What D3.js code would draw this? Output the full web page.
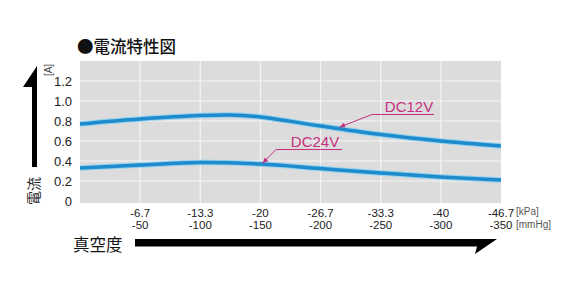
<!DOCTYPE html>
<html>
<head>
<meta charset="utf-8">
<script src="https://cdn.jsdelivr.net/npm/d3@7"></script>
<style>
  body { margin: 0; background: #fff; }
  text { font-family: "Liberation Sans", Arial, sans-serif; }
  .jp { font-family: "Noto Sans CJK JP", sans-serif; }
</style>
</head>
<body>
<svg width="583" height="300"></svg>
<script>
// data
var mmHg = [0, -50, -100, -150, -200, -250, -300, -350];
var kPaLabels = ['', '-6.7', '-13.3', '-20', '-26.7', '-33.3', '-40', '-46.7'];
var yTicks = [0, 0.2, 0.4, 0.6, 0.8, 1.0, 1.2];

var dc12x = [0, -50, -100, -125, -150, -200, -250, -300, -350];
var dc12y = [0.77, 0.82, 0.855, 0.86, 0.84, 0.75, 0.665, 0.60, 0.55];
var dc24x = [0, -50, -100, -150, -200, -250, -300, -350];
var dc24y = [0.33, 0.36, 0.385, 0.37, 0.325, 0.28, 0.24, 0.21];

var svg = d3.select('svg');

var x = d3.scaleLinear().domain([0, -350]).range([80, 501]);
var y = d3.scaleLinear().domain([0, 1.4]).range([201, 61]);

var magenta = '#c4307e';

// plot background
svg.append('rect')
    .attr('x', x(0)).attr('y', y(1.4))
    .attr('width', x(-350) - x(0))
    .attr('height', y(0) - y(1.4) + 2)
    .attr('fill', '#dcdcdc');

// grid
svg.append('g').selectAll('line')
    .data(mmHg.slice(1, 7))
    .enter().append('line')
    .attr('x1', function(d) { return x(d); })
    .attr('x2', function(d) { return x(d); })
    .attr('y1', y(1.4)).attr('y2', y(0) + 2)
    .attr('stroke', '#f4f4f4').attr('stroke-width', 1.2);

svg.append('g').selectAll('line')
    .data(yTicks.slice(1))
    .enter().append('line')
    .attr('x1', x(0)).attr('x2', x(-350))
    .attr('y1', function(d) { return y(d); })
    .attr('y2', function(d) { return y(d); })
    .attr('stroke', '#f4f4f4').attr('stroke-width', 1.2);

// y axis labels
var yAxis = svg.append('g')
    .attr('transform', 'translate(' + (x(0) - 5) + ',0)')
    .call(d3.axisLeft(y).tickValues(yTicks).tickSize(0)
        .tickFormat(function(d) { return d === 0 ? '0' : d.toFixed(1); }));
yAxis.select('.domain').remove();
yAxis.selectAll('text')
    .attr('font-size', 13)
    .attr('fill', '#222')
    .style('font-family', '"Liberation Sans", Arial, sans-serif');

// x tick labels (two rows)
var xl = svg.append('g').selectAll('g')
    .data(mmHg.slice(1))
    .enter().append('g');
xl.append('text')
    .attr('x', function(d) { return x(d); })
    .attr('y', 217)
    .attr('text-anchor', 'middle')
    .attr('font-size', 11.5).attr('fill', '#222')
    .text(function(d, i) { return kPaLabels[i + 1]; });
xl.append('text')
    .attr('x', function(d) { return x(d); })
    .attr('y', 229)
    .attr('text-anchor', 'middle')
    .attr('font-size', 11.5).attr('fill', '#222')
    .text(function(d) { return d; });

svg.append('text').attr('x', 516).attr('y', 215)
    .attr('font-size', 10).attr('fill', '#555').text('[kPa]');
svg.append('text').attr('x', 516).attr('y', 228)
    .attr('font-size', 10).attr('fill', '#555').text('[mmHg]');

// curves
var line = d3.line()
    .x(function(d) { return x(d[0]); })
    .y(function(d) { return y(d[1]); })
    .curve(d3.curveCatmullRom);

[ d3.zip(dc12x, dc12y), d3.zip(dc24x, dc24y) ].forEach(function(pts) {
  svg.append('path').datum(pts)
      .attr('d', line)
      .attr('fill', 'none')
      .attr('stroke', '#8fd2f2').attr('stroke-width', 5.5);
  svg.append('path').datum(pts)
      .attr('d', line)
      .attr('fill', 'none')
      .attr('stroke', '#1f8bcb').attr('stroke-width', 3.5);
});

// annotations
svg.append('defs').append('marker')
    .attr('id', 'ah').attr('viewBox', '0 0 10 10')
    .attr('refX', 9).attr('refY', 5)
    .attr('markerWidth', 6).attr('markerHeight', 6)
    .attr('orient', 'auto')
  .append('path').attr('d', 'M0,1L10,5L0,9z').attr('fill', magenta);

function callout(label, ty, lx0, lx1, ly, ax, ay) {
  svg.append('text').attr('x', (lx0 + lx1) / 2 + 6).attr('y', ty)
      .attr('text-anchor', 'middle')
      .attr('font-size', 15).attr('fill', magenta).text(label);
  svg.append('polyline')
      .attr('points', lx1 + ',' + ly + ' ' + lx0 + ',' + ly + ' ' + ax + ',' + ay)
      .attr('fill', 'none').attr('stroke', magenta).attr('stroke-width', 1)
      .attr('marker-end', 'url(#ah)');
}
callout('DC12V', 112, 372, 434, 114.5, x(-216), y(0.73) - 1);
callout('DC24V', 147, 276, 342, 149.5, x(-152), y(0.37) - 1);

// title
svg.append('text').attr('class', 'jp')
    .attr('x', 77).attr('y', 53)
    .attr('font-size', 16.5).attr('font-weight', 500).attr('fill', '#111')
    .text('●電流特性図');

// y arrow (half head on the left)
svg.append('path')
    .attr('d', 'M37,167 L37,66 L23,87 L32,87 L32,167 Z')
    .attr('fill', '#000');
svg.append('text').attr('class', 'jp')
    .attr('transform', 'translate(39,191) rotate(-90)')
    .attr('text-anchor', 'middle')
    .attr('font-size', 14).attr('fill', '#222')
    .text('電流');
svg.append('text')
    .attr('transform', 'translate(52,70) rotate(-90)')
    .attr('text-anchor', 'middle')
    .attr('font-size', 10).attr('fill', '#444')
    .text('[A]');

// x arrow (half head below)
svg.append('path')
    .attr('d', 'M135,239 L497,239 L475,254 L477,246.5 L135,246.5 Z')
    .attr('fill', '#000');
svg.append('text').attr('class', 'jp')
    .attr('x', 73).attr('y', 251)
    .attr('font-size', 16.5).attr('fill', '#111')
    .text('真空度');
</script>
</body>
</html>
